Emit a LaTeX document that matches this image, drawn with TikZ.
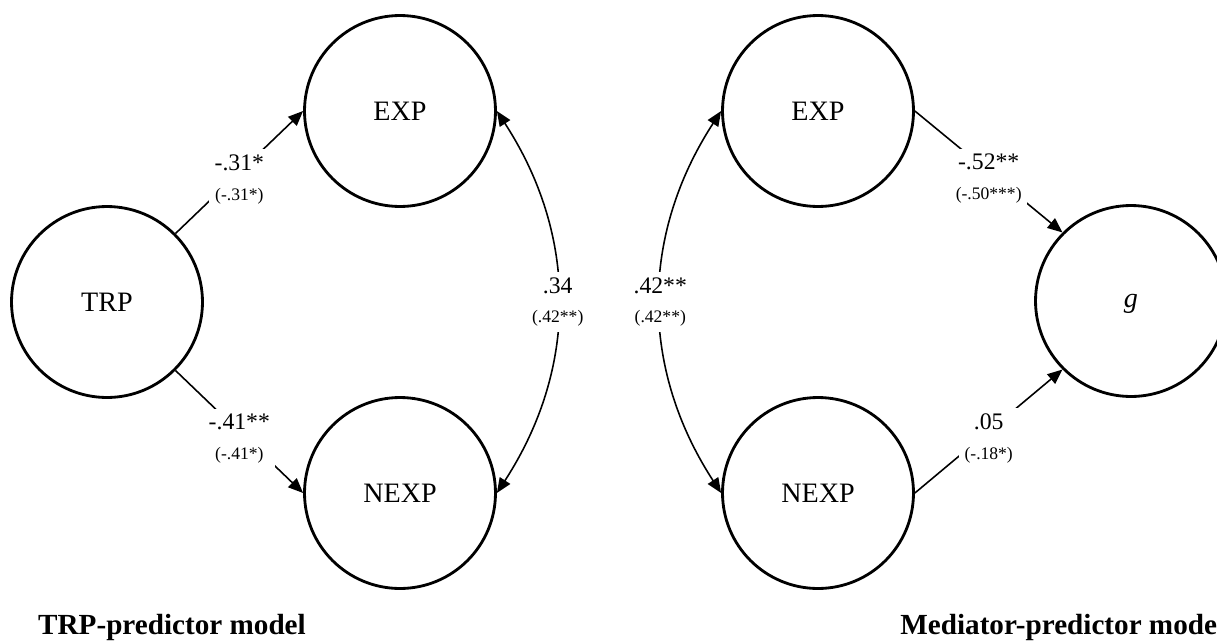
\documentclass[tikz,border=0pt]{standalone}
\usepackage{fontspec}
\setmainfont{Liberation Serif}
\usetikzlibrary{arrows.meta}

\tikzset{
  latent/.style={draw, circle, line width=1.6pt, minimum size=3.82cm, inner sep=0pt, font=\fontsize{16}{19}\selectfont},
  path/.style={line width=.9pt, -{Triangle[length=8.5pt, width=7pt]}},
  cov/.style={line width=.9pt, {Triangle[length=8.5pt, width=7pt]}-{Triangle[length=8.5pt, width=7pt]}},
  coef/.style={fill=white, align=center, inner sep=3pt, font=\fontsize{13.5}{17}\selectfont},
  modeltitle/.style={font=\fontsize{16.6}{19}\selectfont\bfseries, inner sep=0pt}
}
\newcommand\coefs[2]{#1\\{\fontsize{10}{17}\selectfont #2}}

\begin{document}
\begin{tikzpicture}[x=.02cm, y=-.02cm]
\useasboundingbox (0,0) rectangle (1217,643);

% TRP-predictor model
\node[latent] (TRP) at (107,302) {TRP};
\node[latent] (EXPa) at (400,111) {EXP};
\node[latent] (NEXPa) at (400,493) {NEXP};

\draw [path] (TRP.north east) to node[coef, yshift=-4]{\coefs{-.31*}{(-.31*)}} (EXPa.west);
\draw [path] (TRP.south east) to node[coef, yshift=-4]{\coefs{-.41**}{(-.41*)}} (NEXPa.west);
\draw [cov] (EXPa.east) to [out=-57, in=57] node[coef]{\coefs{.34}{(.42**)}} (NEXPa.east);

% Mediator-predictor model
\node[latent] (EXPb) at (818,111) {EXP};
\node[latent] (NEXPb) at (818,493) {NEXP};
\node[latent] (g) at (1131,301) {\itshape g\vphantom{X}};

\draw [cov] (EXPb.west) to [out=237, in=123] node[coef]{\coefs{.42**}{(.42**)}} (NEXPb.west);
\draw [path] (EXPb.east) to node[coef, yshift=-4]{\coefs{-.52**}{(-.50***)}} (g.north west);
\draw [path] (NEXPb.east) to node[coef, yshift=-4]{\coefs{.05}{(-.18*)}} (g.south west);

\node[modeltitle] (titleA) at (172,627) {TRP-predictor model};
\node[modeltitle, anchor=west] (titleB) at (900,627) {Mediator-predictor model};
\end{tikzpicture}
\end{document}
